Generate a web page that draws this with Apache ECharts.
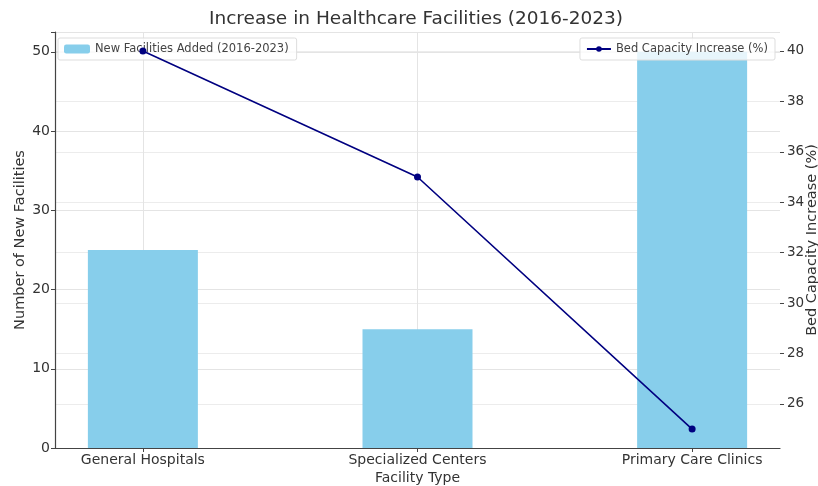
<!DOCTYPE html>
<html>
<head>
<meta charset="utf-8">
<script src="https://cdn.jsdelivr.net/npm/echarts@6/dist/echarts.min.js"></script>
<style>html,body{margin:0;padding:0;background:#fff}#c{width:818px;height:486px}</style>
</head>
<body>
<div id="c"></div>
<script>
const categories = ["General Hospitals", "Specialized Centers", "Primary Care Clinics"];
const newFacilities = [25, 15, 50];
const bedCapacityIncrease = [40, 35, 25];
const leftTicks = [0, 10, 20, 30, 40, 50];
const rightTicks = [26, 28, 30, 32, 34, 36, 38, 40];

const FONT = "DejaVu Sans";
const chart = echarts.init(document.getElementById('c'));
const catIdx = categories.map((_, i) => i);

chart.setOption({
  animation: false,
  backgroundColor: '#fff',
  title: {
    text: 'Increase in Healthcare Facilities (2016-2023)',
    left: 411, top: 5, textAlign: 'center',
    textStyle: { fontFamily: FONT, fontSize: 18.5, fontWeight: 'normal', color: '#333' }
  },
  legend: [
    {
      data: ['New Facilities Added (2016-2023)'],
      left: 58, top: 38, padding: [5, 8, 5, 6],
      itemWidth: 26, itemHeight: 9, itemGap: 6,
      backgroundColor: 'rgba(255,255,255,0.8)', borderColor: '#ddd', borderWidth: 1, borderRadius: 2,
      textStyle: { fontFamily: FONT, fontSize: 11.5, color: '#444' }
    },
    {
      data: ['Bed Capacity Increase (%)'],
      right: 43, top: 38, padding: [5, 7, 5, 6],
      itemWidth: 24, itemHeight: 7, itemGap: 6,
      backgroundColor: 'rgba(255,255,255,0.8)', borderColor: '#ddd', borderWidth: 1, borderRadius: 2,
      textStyle: { fontFamily: FONT, fontSize: 11.5, color: '#444' }
    }
  ],
  grid: { left: 55, right: 38, top: 32, bottom: 38, outerBoundsMode: 'none', containLabel: false },
  xAxis: {
    type: 'value', min: -0.32, max: 2.32,
    name: 'Facility Type', nameLocation: 'middle', nameGap: 23, nameMoveOverlap: false,
    nameTextStyle: { fontFamily: FONT, fontSize: 14, color: '#333' },
    axisLine: { show: true, onZero: false, lineStyle: { color: '#444', width: 1.2 } },
    axisTick: { show: true, customValues: catIdx, length: 4, lineStyle: { color: '#444' } },
    axisLabel: {
      customValues: catIdx, margin: 5,
      formatter: v => categories[Math.round(v)],
      fontFamily: FONT, fontSize: 14, color: '#333'
    },
    splitLine: { show: true, customValues: catIdx, lineStyle: { color: '#e4e4e4', width: 1 } }
  },
  yAxis: [
    {
      type: 'value', min: 0, max: 52.5, interval: 10,
      name: 'Number of New Facilities', nameLocation: 'middle', nameGap: 27, nameMoveOverlap: false,
      nameTextStyle: { fontFamily: FONT, fontSize: 14.5, color: '#333' },
      axisLine: { show: true, onZero: false, lineStyle: { color: '#444', width: 1.2 } },
      axisTick: { show: true, length: 4, lineStyle: { color: '#444' } },
      axisLabel: {
        customValues: leftTicks, margin: 5,
        fontFamily: FONT, fontSize: 14, color: '#333'
      },
      splitLine: { show: true, lineStyle: { color: '#e4e4e4', width: 1 } }
    },
    {
      type: 'value', min: 24.25, max: 40.75,
      name: 'Bed Capacity Increase (%)', nameLocation: 'middle', nameGap: 25, nameMoveOverlap: false,
      nameTextStyle: { fontFamily: FONT, fontSize: 14.5, color: '#333' },
      axisLine: { show: false, onZero: false },
      axisTick: { show: true, customValues: rightTicks, length: 4, lineStyle: { color: '#444' } },
      axisLabel: {
        customValues: rightTicks, margin: 7,
        fontFamily: FONT, fontSize: 13.5, color: '#333'
      },
      splitLine: { show: true, customValues: rightTicks, lineStyle: { color: '#ececec', width: 1 } }
    }
  ],
  series: [
    {
      name: 'New Facilities Added (2016-2023)',
      type: 'bar',
      yAxisIndex: 0,
      barWidth: 110,
      itemStyle: { color: '#87CEEB' },
      data: newFacilities.map((v, i) => [i, v])
    },
    {
      name: 'Bed Capacity Increase (%)',
      type: 'line',
      yAxisIndex: 1,
      symbol: 'circle', symbolSize: 7,
      lineStyle: { color: '#000080', width: 1.6 },
      itemStyle: { color: '#000080' },
      data: bedCapacityIncrease.map((v, i) => [i, v]),
      z: 5
    }
  ]
});
</script>
</body>
</html>
